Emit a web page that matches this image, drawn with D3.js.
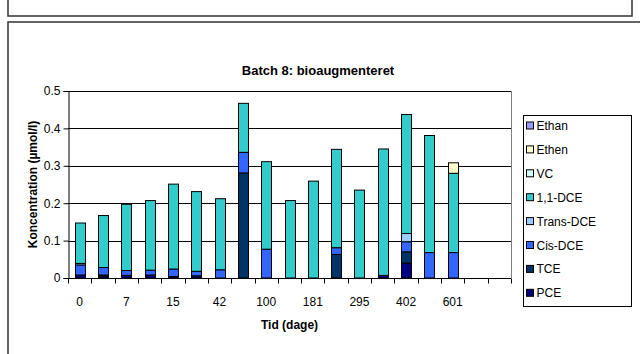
<!DOCTYPE html>
<html>
<head>
<meta charset="utf-8">
<script src="https://cdn.jsdelivr.net/npm/d3@7"></script>
<style>
	body { margin: 0; background: #fff; }
	svg { display: block; font-family: "Liberation Sans", Arial, sans-serif; }
</style>
</head>
<body>
<div id="chart"></div>
<script>
// categories (every other day label is hidden, like the source; two empty slots at the end)
const tickLabels = ["0", "", "7", "", "15", "", "42", "", "100", "", "181", "", "295", "", "402", "", "601", "", ""];

const seriesNames  = ["PCE", "TCE", "Cis-DCE", "Trans-DCE", "1,1-DCE", "VC", "Ethen", "Ethan"];
const seriesColors = ["#000080", "#003366", "#3366ff", "#99ccff", "#33cccc", "#ccffff", "#ffffcc", "#9999ff"];

// concentrations (umol/l), one value per sampling
const pce      = [0.008, 0.005, 0.007, 0.008, 0.004, 0.006, 0, 0, 0, 0, 0, 0, 0, 0.007, 0.040, 0, 0];
const tce      = [0, 0.003, 0, 0, 0, 0, 0, 0.281, 0, 0, 0, 0.063, 0, 0, 0.030, 0, 0];
const cisDce   = [0.027, 0.020, 0.013, 0.013, 0.020, 0.012, 0.022, 0.055, 0.077, 0, 0, 0.018, 0, 0, 0.027, 0.068, 0.068];
const transDce = [0.004, 0, 0, 0, 0, 0, 0, 0, 0, 0, 0, 0, 0, 0, 0.022, 0, 0];
const dce11    = [0.108, 0.139, 0.177, 0.186, 0.227, 0.213, 0.190, 0.131, 0.234, 0.207, 0.259, 0.263, 0.235, 0.338, 0.318, 0.313, 0.212];
const vc       = [0, 0, 0, 0, 0, 0, 0, 0, 0, 0, 0, 0, 0, 0, 0, 0, 0];
const ethen    = [0, 0, 0, 0, 0, 0, 0, 0, 0, 0, 0, 0, 0, 0, 0, 0, 0.028];
const ethan    = [0, 0, 0, 0, 0, 0, 0, 0, 0, 0, 0, 0, 0, 0, 0, 0, 0];

const yTicks = [0, 0.1, 0.2, 0.3, 0.4, 0.5];

const width = 640, height = 354;
const margin = {top: 91, right: 129, bottom: 76, left: 68};
const innerW = width - margin.left - margin.right,
	innerH = height - margin.top - margin.bottom;

const columns = [pce, tce, cisDce, transDce, dce11, vc, ethen, ethan];
const rows = pce.map((_, i) => {
	const r = {idx: i};
	seriesNames.forEach((n, k) => r[n] = columns[k][i]);
	return r;
});

const svg = d3.select('#chart').append('svg')
	.attr('width', width)
	.attr('height', height);

// document frames
svg.append('path')
	.attr('d', `M8,0 V16 H632 V0`)
	.attr('fill', 'none').attr('stroke', '#333').attr('stroke-width', 1.5);
svg.append('path')
	.attr('d', `M8,${height + 2} V22 H${width + 2}`)
	.attr('fill', 'none').attr('stroke', '#333').attr('stroke-width', 1.5);

svg.append('text')
	.attr('x', 318).attr('y', 75)
	.attr('text-anchor', 'middle')
	.style('font-size', '13px').style('font-weight', 'bold')
	.text('Batch 8: bioaugmenteret');

const x = d3.scaleBand()
	.domain(d3.range(tickLabels.length))
	.range([0, innerW])
	.paddingInner(0);

const y = d3.scaleLinear()
	.domain([0, 0.5])
	.range([innerH, 0]);

const g = svg.append('g')
	.attr('transform', `translate(${margin.left},${margin.top})`);

// gridlines
g.append('g')
	.selectAll('line')
	.data(yTicks.slice(1))
	.join('line')
	.attr('x1', 0).attr('x2', innerW)
	.attr('y1', d => Math.round(y(d)) + 0.5).attr('y2', d => Math.round(y(d)) + 0.5)
	.attr('stroke', '#000');

// plot area border (right side)
g.append('line')
	.attr('x1', innerW + 0.5).attr('x2', innerW + 0.5)
	.attr('y1', 0).attr('y2', innerH)
	.attr('stroke', '#808080');

// stacked bars
const stack = d3.stack().keys(seriesNames);
const layers = stack(rows);

g.selectAll('.layer')
	.data(layers)
	.join('g')
	.attr('class', 'layer')
	.attr('fill', (d, i) => seriesColors[i])
	.selectAll('rect')
	.data(d => d.filter(s => s[1] - s[0] > 0))
	.join('rect')
	.attr('x', d => Math.round(x(d.data.idx) + (x.bandwidth() - 10) / 2) + 0.5)
	.attr('width', 10)
	.attr('y', d => y(d[1]))
	.attr('height', d => y(d[0]) - y(d[1]))
	.attr('stroke', '#000')
	.attr('stroke-width', 1);

// y axis
const yAxis = d3.axisLeft(y)
	.tickValues(yTicks)
	.tickFormat(d => d === 0 ? '0' : d3.format('.1f')(d))
	.tickSizeOuter(0)
	.tickSize(5)
	.tickPadding(3);

g.append('g')
	.attr('transform', 'translate(0.5,0)')
	.call(yAxis)
	.call(a => a.selectAll('text').style('font-size', '12px').attr('fill', '#000'))
	.call(a => a.selectAll('line,path').attr('stroke', '#000'));

// x axis: ticks on category boundaries
const xAxisG = g.append('g')
	.attr('transform', `translate(0,${Math.round(innerH) + 0.5})`);

xAxisG.append('line')
	.attr('x1', 0).attr('x2', innerW)
	.attr('stroke', '#000');

xAxisG.selectAll('.tick')
	.data(d3.range(tickLabels.length + 1))
	.join('line')
	.attr('class', 'tick')
	.attr('x1', i => Math.round(i * x.step()) + 0.5)
	.attr('x2', i => Math.round(i * x.step()) + 0.5)
	.attr('y1', 0).attr('y2', 5)
	.attr('stroke', '#000');

xAxisG.selectAll('.lbl')
	.data(tickLabels)
	.join('text')
	.attr('class', 'lbl')
	.attr('x', (d, i) => x(i) + x.bandwidth() / 2)
	.attr('y', 27)
	.attr('text-anchor', 'middle')
	.style('font-size', '12px')
	.text(d => d);

// axis titles
svg.append('text')
	.attr('x', margin.left + innerW / 2)
	.attr('y', 329)
	.attr('text-anchor', 'middle')
	.style('font-size', '12px').style('font-weight', 'bold')
	.text('Tid (dage)');

svg.append('text')
	.attr('transform', `translate(37,${margin.top + innerH / 2}) rotate(-90)`)
	.attr('text-anchor', 'middle')
	.style('font-size', '12px').style('font-weight', 'bold')
	.text('Koncentration (µmol/l)');

// legend
const legend = svg.append('g').attr('transform', 'translate(523.5,115.5)');
legend.append('rect')
	.attr('width', 108).attr('height', 191)
	.attr('fill', '#fff').attr('stroke', '#000');

const legendOrder = seriesNames.map((n, i) => i).reverse();
const item = legend.selectAll('.item')
	.data(legendOrder)
	.join('g')
	.attr('class', 'item')
	.attr('transform', (d, i) => `translate(0,${10.5 + i * 23.9})`);

item.append('rect')
	.attr('x', 3).attr('y', -4)
	.attr('width', 7).attr('height', 7)
	.attr('fill', d => seriesColors[d])
	.attr('stroke', '#000');

item.append('text')
	.attr('x', 13).attr('y', 4)
	.style('font-size', '12px')
	.text(d => seriesNames[d]);
</script>
</body>
</html>
